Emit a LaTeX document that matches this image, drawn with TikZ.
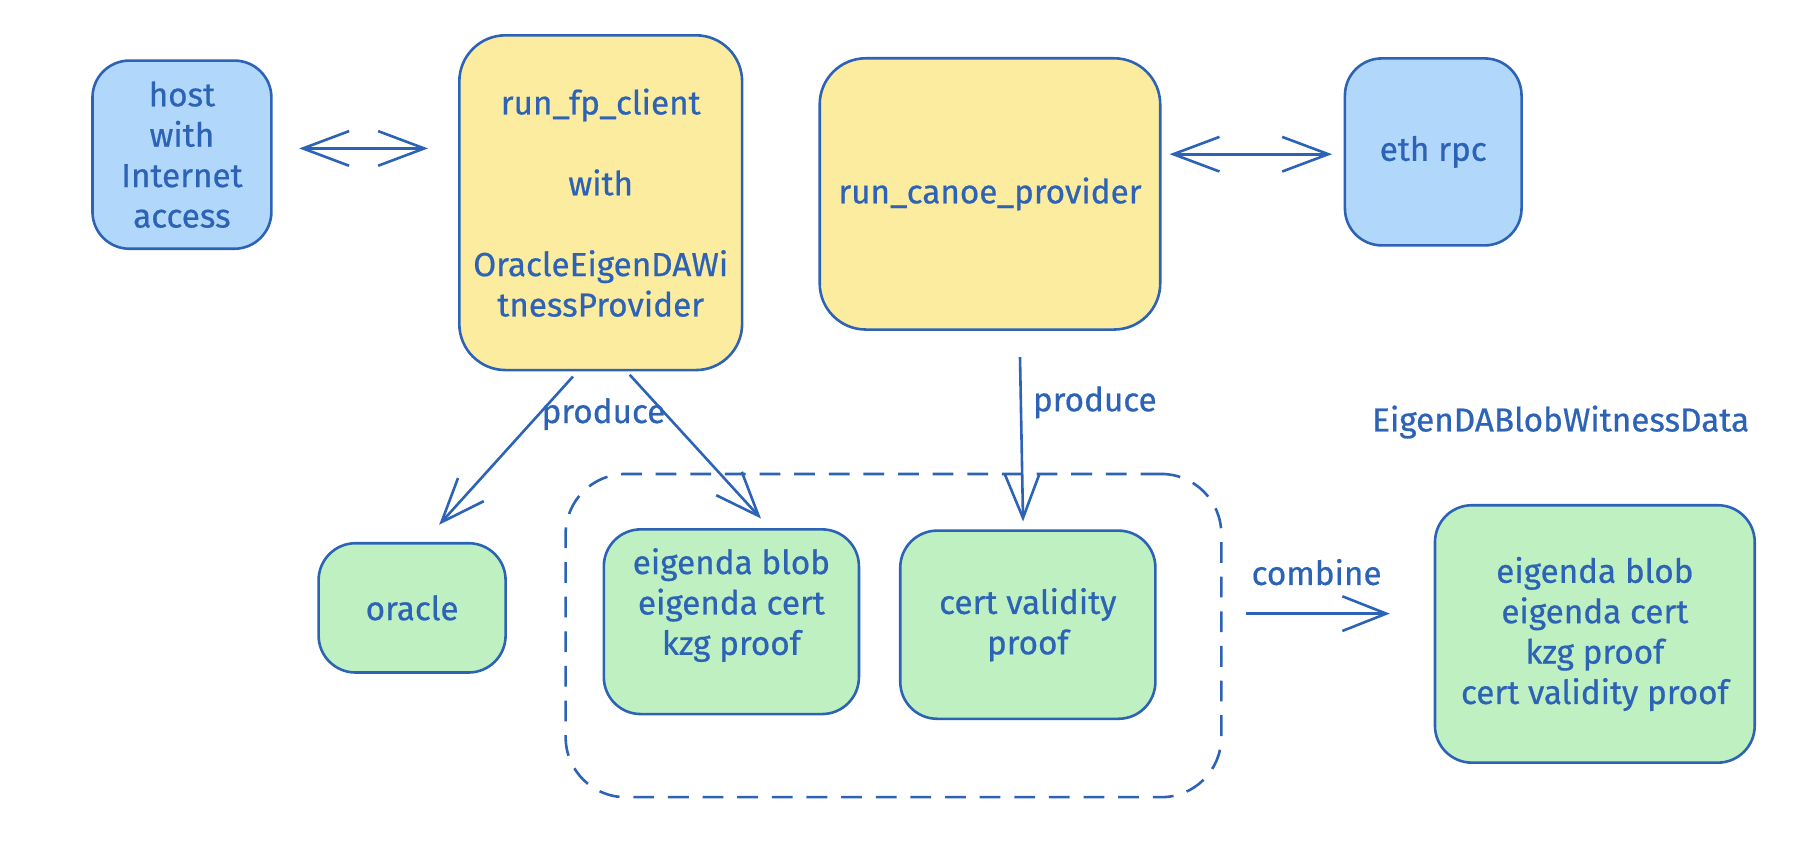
\documentclass[tikz,border=0pt]{standalone}
\usepackage{fontspec}
\setmainfont{Fira Sans}
\newfontfamily\handfam{Fira Sans}[FakeBold=0.6]
\usetikzlibrary{arrows.meta}
\definecolor{ink}{HTML}{2D63B6}
\definecolor{skyfill}{HTML}{B1D8FA}
\definecolor{sunfill}{HTML}{FCEC9F}
\definecolor{leaffill}{HTML}{BFF0C2}
\newcommand{\handfont}{\handfam\fontsize{20.5}{24.9}\selectfont}
\tikzset{
	card/.style={draw=ink, line width=1.6pt, rounded corners=0.8cm, align=center, text=ink, font=\handfont, inner sep=0pt},
	skycard/.style={card, fill=skyfill},
	suncard/.style={card, fill=sunfill, rounded corners=1cm},
	leafcard/.style={card, fill=leaffill},
	groupbox/.style={draw=ink, line width=1.6pt, rounded corners=1.3cm, dash pattern=on 0.45cm off 0.3cm, inner sep=0pt},
	tag/.style={text=ink, font=\handfont, inner sep=1pt},
	flow/.style={draw=ink, line width=1.6pt, -{Straight Barb[length=9.5mm, width=7.5mm]}},
	twoway/.style={draw=ink, line width=1.6pt, {Straight Barb[length=10mm, width=7.5mm]}-{Straight Barb[length=10mm, width=7.5mm]}}
}
\begin{document}
\begin{tikzpicture}
			%%%%% START %%%%%
			
			\useasboundingbox (0, 0) rectangle (39.2, 18.54);
			
			\node[skycard, minimum width=3.875cm, minimum height=4.075cm] (host) at (3.94, 15.19) {host\\with\\Internet\\access};
			\node[suncard, minimum width=6.125cm, minimum height=7.25cm] (fp) at (13.01, 14.15) {run\_fp\_client\\ \mbox{}\\with\\ \mbox{}\\OracleEigenDAWi\\tnessProvider};
			\node[suncard, minimum width=7.375cm, minimum height=5.875cm] (canoe) at (21.44, 14.34) {run\_canoe\_provider};
			\node[skycard, minimum width=3.825cm, minimum height=4.05cm] (eth) at (31.04, 15.25) {eth rpc};
			
			\node[groupbox, minimum width=14.2cm, minimum height=7cm] (group) at (19.35, 4.775) {};
			
			\node[leafcard, minimum width=4.05cm, minimum height=2.8cm] (oracle) at (8.925, 5.375) {oracle};
			\node[leafcard, minimum width=5.525cm, minimum height=4cm] (blob) at (15.84, 5.075) {eigenda blob\\eigenda cert\\kzg proof\\ \mbox{}};
			\node[leafcard, minimum width=5.525cm, minimum height=4.075cm] (validity) at (22.26, 5.01) {cert validity\\proof};
			\node[leafcard, minimum width=6.925cm, minimum height=5.575cm] (witness) at (34.54, 4.81) {eigenda blob\\eigenda cert\\kzg proof\\cert validity proof};
			
			\node[tag] (witnesstitle) at (33.8, 9.4) {EigenDABlobWitnessData};
			\node[tag] (fpproduce) at ([xshift=0.6mm, yshift=-9.25mm]fp.south) {produce};
			
			\draw[twoway, shorten <=5.75mm, shorten >=6.5mm] ([yshift=1.35mm]host.east) -- ([yshift=1.35mm]host.east -| fp.west);
			\draw[twoway, shorten <=1.75mm, shorten >=2.5mm] ([yshift=-0.5mm]eth.west -| canoe.east) -- ([yshift=-0.5mm]eth.west);
			
			\draw[flow, shorten <=1.5mm, shorten >=5mm] ([xshift=-5mm]fp.south) -- ([xshift=2.5mm]oracle.north);
			\draw[flow, shorten <=1mm, shorten >=2.8mm] ([xshift=5.6mm]fp.south) -- ([xshift=8.3mm]blob.north);
			\draw[flow, shorten <=5.7mm, shorten >=1.7mm] ([xshift=6.4mm]canoe.south) -- ([xshift=-1mm]validity.north) node[tag, pos=0.36, right=2mm] (canoeproduce) {produce};
			
			\draw[flow, shorten <=5mm, shorten >=9.5mm] ([yshift=4.75mm]group.east) -- ([yshift=4.75mm]group.east -| witness.west) node[tag, midway, above=5.5mm, xshift=-2.5mm] (combinetag) {combine};
			
			%%%%% END %%%%%
\end{tikzpicture}
\end{document}
